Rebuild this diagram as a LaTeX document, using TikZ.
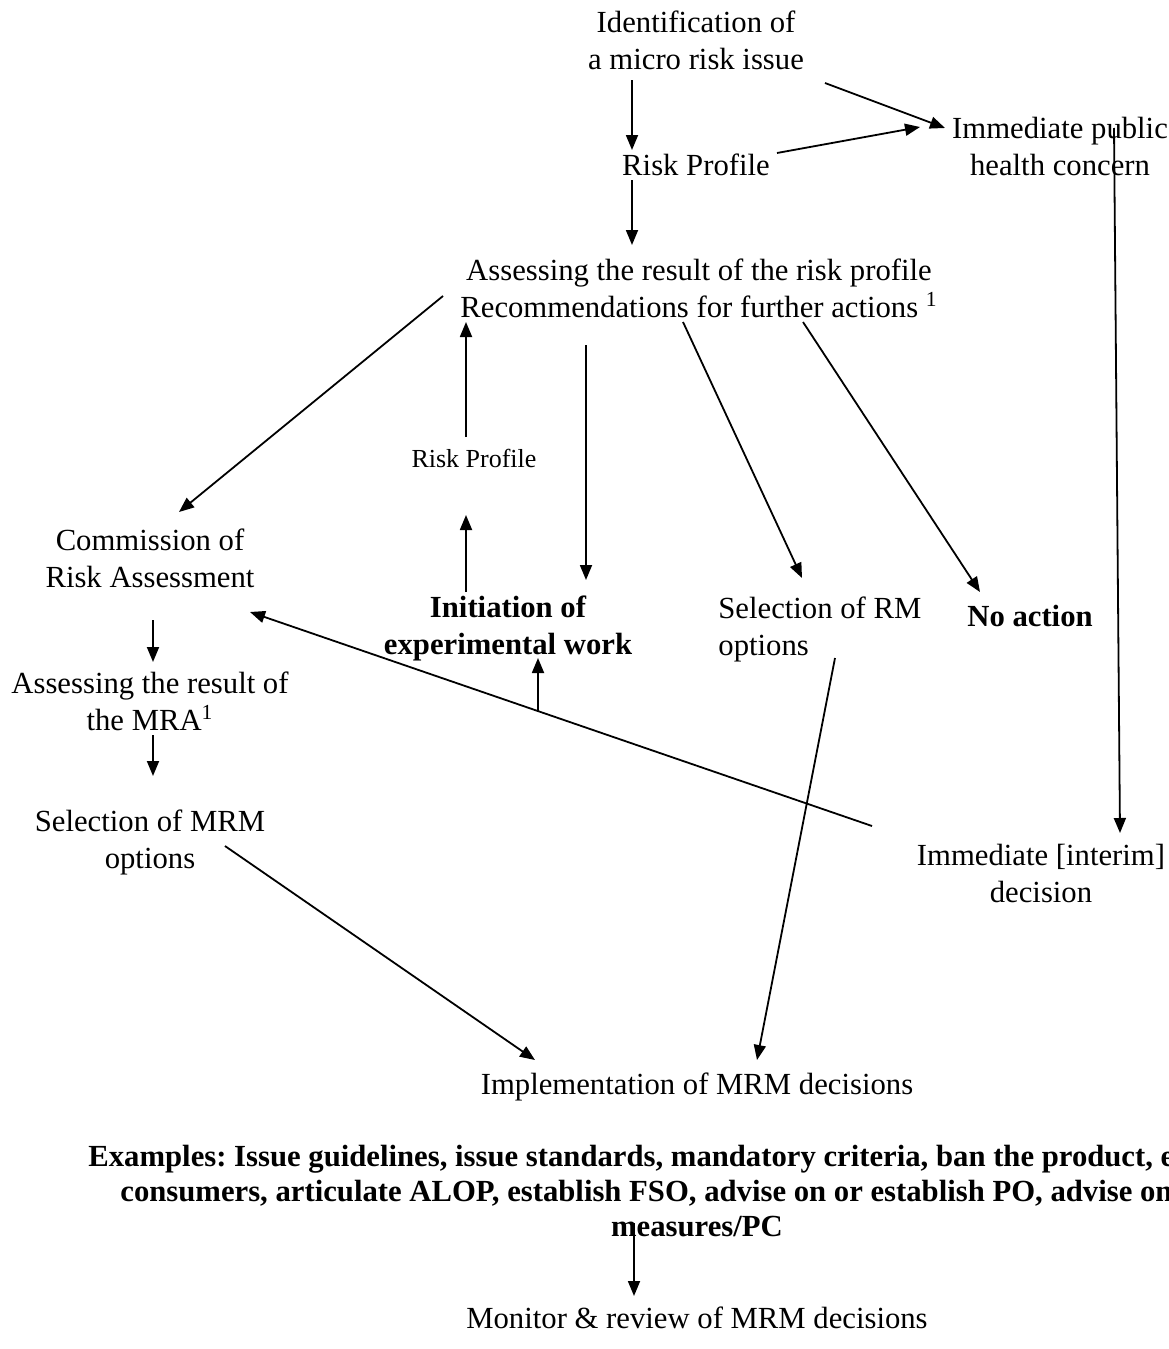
\documentclass[tikz,border=0pt]{standalone}
\usepackage{fontspec}
\setmainfont{Liberation Serif}
\usetikzlibrary{calc}
\usetikzlibrary{arrows.meta}
\frenchspacing

\tikzset{
  lbl/.style={align=center, inner sep=0pt, font=\fontsize{15.35}{18.5}\selectfont},
  smalllbl/.style={align=center, inner sep=0pt, font=\fontsize{13}{15.5}\selectfont},
  boldlbl/.style={align=center, inner sep=0pt, font=\fontsize{15.35}{18.5}\selectfont\bfseries},
  arr/.style={-{Triangle[length=7.5pt,width=6pt]}, line width=0.9pt},
}

\begin{document}
\begin{tikzpicture}[x=0.5pt,y=-0.5pt]
  % Boundary
  \path[use as bounding box] (0,0) rectangle (1168,1349);
  % Top of the chain
  \node[lbl] (ident) at (696,40) {Identification of\\a micro risk issue};
  \node[lbl] (rp) at (696,165) {Risk Profile};
  \node[lbl] (ihc) at (1060,146) {Immediate public\\health concern};
  \node[lbl] (assess) at (699,288) {Assessing the result of the risk profile\\Recommendations for further actions \textsuperscript{1}};
  % Left column
  \node[lbl] (comm) at (150,558) {Commission of\\Risk Assessment};
  \node[lbl] (mra) at (150,701) {Assessing the result of\\the MRA\textsuperscript{1}};
  \node[lbl] (selmrm) at (150,842) {Selection of MRM\\options};
  % Middle
  \node[smalllbl] (rpsmall) at (474,458) {Risk Profile};
  \node[boldlbl] (init) at (508,628) {Initiation of\\experimental work};
  \node[lbl, align=left, anchor=west] (selrm) at (718,629) {Selection of RM\\options};
  \node[boldlbl] (noact) at (1030,616) {No action};
  \node[lbl] (idec) at (1041,873) {Immediate [interim]\\decision};
  % Bottom
  \node[lbl] (impl) at (697,1087) {Implementation of MRM decisions};
  \node[boldlbl, anchor=west] (ex1) at (88,1159) {Examples: Issue guidelines, issue standards, mandatory criteria, ban the product, e};
  \node[boldlbl, anchor=west] (ex2) at (120,1193) {consumers, articulate ALOP, establish FSO, advise on or establish PO, advise on};
  \node[boldlbl] (ex3) at (697,1227) {measures/PC};
  \node[lbl] (mon) at (697,1318) {Monitor \& review of MRM decisions};
  % Connectors
  \draw[arr] ($(ident)+(-64,40)$) -- ($(rp)+(-64,-15)$);
  \draw[arr] ($(ident)+(129,43)$) -- ($(ihc)+(-115,-18)$);
  \draw[arr] ($(rp)+(81,-12)$) -- ($(ihc)+(-140,-19)$);
  \draw[arr] ($(rp)+(-64,15)$) -- ($(assess)+(-67,-43)$);
  \draw[arr] ($(ihc)+(54,-18)$) -- ($(idec)+(79,-40)$);
  \draw[arr] ($(assess)+(-256,8)$) -- ($(comm)+(29,-46)$);
  \draw[arr] ($(rpsmall)+(-8,-21)$) -- ($(assess)+(-233,34)$);
  \draw[arr] ($(init)+(-42,-36)$) -- ($(rpsmall)+(-8,57)$);
  \draw[arr] ($(assess)+(-113,57)$) -- ($(init)+(78,-48)$);
  \draw[arr] ($(assess)+(-16,34)$) -- ($(selrm.west)+(84,-51)$);
  \draw[arr] ($(assess)+(104,34)$) -- ($(noact)+(-50,-24)$);
  \draw[arr] ($(comm)+(3,62)$) -- ($(mra)+(3,-39)$);
  \draw[arr] ($(mra)+(3,34)$) -- ($(selmrm)+(3,-66)$);
  \coordinate (idecw) at ($(idec)+(-169,-47)$);
  \coordinate (comme) at ($(comm)+(100,54)$);
  \draw[arr] (idecw) -- (comme);
  \draw[arr] ($(idecw)!0.537!(comme)$) -- ($(init)+(30,30)$);
  \draw[arr] ($(selmrm)+(75,4)$) -- ($(impl)+(-162,-27)$);
  \draw[arr] ($(selrm.west)+(117,29)$) -- ($(impl)+(60,-27)$);
  \draw[arr] ($(ex3)+(-63,-4)$) -- ($(mon)+(-63,-22)$);
\end{tikzpicture}
\end{document}
